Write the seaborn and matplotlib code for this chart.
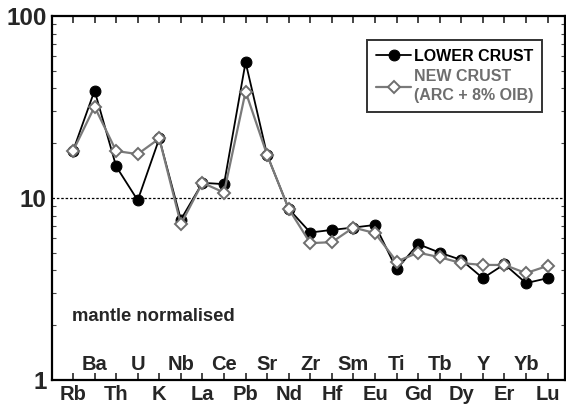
import matplotlib
matplotlib.use("Agg")
import matplotlib.pyplot as plt
import matplotlib.transforms as mtransforms
from matplotlib.ticker import LogLocator, NullFormatter, FixedLocator
import seaborn as sns
import pandas as pd

# data (mantle normalised)
elements = ["Rb", "Ba", "Th", "U", "K", "Nb", "La", "Ce", "Pb", "Sr", "Nd", "Zr",
            "Hf", "Sm", "Eu", "Ti", "Gd", "Tb", "Dy", "Y", "Er", "Yb", "Lu"]
lower_crust = [18.1, 38.9, 14.9, 9.7, 21.2, 7.6, 12.1, 11.9, 55.7, 17.2, 8.7, 6.45,
               6.67, 6.87, 7.1, 4.06, 5.57, 5.0, 4.56, 3.62, 4.32, 3.40, 3.62]
new_crust = [18.1, 31.7, 18.1, 17.4, 21.2, 7.17, 12.1, 10.7, 38.4, 17.2, 8.7, 5.64,
             5.71, 6.87, 6.4, 4.47, 5.0, 4.72, 4.38, 4.28, 4.28, 3.86, 4.23]

df = pd.DataFrame({"pos": range(len(elements)), "element": elements,
                   "lower": lower_crust, "new": new_crust})

sns.set_style("ticks")
plt.rcParams["font.family"] = ["Liberation Sans", "DejaVu Sans"]
plt.rcParams["font.weight"] = "bold"

fig = plt.figure(figsize=(5.66, 4.08), dpi=100)
ax = fig.add_axes([0.092, 0.069, 0.906, 0.892])

sns.lineplot(data=df, x="pos", y="lower", ax=ax, color="black", lw=1.3,
             marker="o", markersize=7.8, markerfacecolor="black",
             markeredgecolor="black", sort=False, label="LOWER CRUST", zorder=3)
sns.lineplot(data=df, x="pos", y="new", ax=ax, color="#7a7a7a", lw=1.6,
             marker="D", markersize=6.4, markerfacecolor="white",
             markeredgecolor="#6e6e6e", markeredgewidth=1.4, sort=False,
             label="NEW CRUST\n(ARC + 8% OIB)", zorder=4)

ax.axhline(10, color="black", lw=0.9, ls=(0, (2, 1.5)), zorder=1)

ax.set_yscale("log")
ax.set_ylim(1, 100)
ax.set_xlim(-0.97, 22.8)
ax.set_xlabel("")
ax.set_ylabel("")

# y ticks
ax.yaxis.set_major_locator(FixedLocator([1, 10, 100]))
ax.set_yticklabels(["1", "10", "100"], fontsize=17.5, fontweight="bold")
ax.yaxis.set_minor_locator(LogLocator(base=10, subs=range(2, 10)))
ax.yaxis.set_minor_formatter(NullFormatter())
ax.tick_params(axis="y", which="major", direction="in", length=0, pad=4,
               left=True, right=True)
ax.tick_params(axis="y", which="minor", direction="in", length=3, width=0.8,
               left=True, right=True, color="#444444")

# x ticks: every element, labels alternate below / above axis
ax.set_xticks(df["pos"])
ax.set_xticklabels([e if i % 2 == 0 else "" for i, e in enumerate(elements)],
                   fontsize=14.5, fontweight="bold")
ax.tick_params(axis="x", direction="in", length=5, width=1.2, pad=4,
               top=True, bottom=True)
trans = mtransforms.blended_transform_factory(ax.transData, ax.transAxes)
for i, e in enumerate(elements):
    if i % 2 == 1:
        ax.text(i, 0.043, e, transform=trans, ha="center", va="center",
                fontsize=14.5, fontweight="bold")

for s in ax.spines.values():
    s.set_linewidth(1.6)
    s.set_color("black")

ax.text(0.039, 0.173, "mantle normalised", transform=ax.transAxes,
        fontsize=13.3, fontweight="bold", ha="left", va="center")

leg = ax.legend(loc="upper right", bbox_to_anchor=(0.955, 0.934), frameon=True,
                fancybox=False, fontsize=11.5, handlelength=2.2, handletextpad=0.15,
                borderpad=0.55, labelspacing=0.35, borderaxespad=0)
leg.get_frame().set_edgecolor("black")
leg.get_frame().set_linewidth(1.4)
for t, c in zip(leg.get_texts(), ["black", "#6e6e6e"]):
    t.set_color(c)
    t.set_fontweight("bold")
    t.set_linespacing(1.3)

fig.savefig("out.png", dpi=100)
